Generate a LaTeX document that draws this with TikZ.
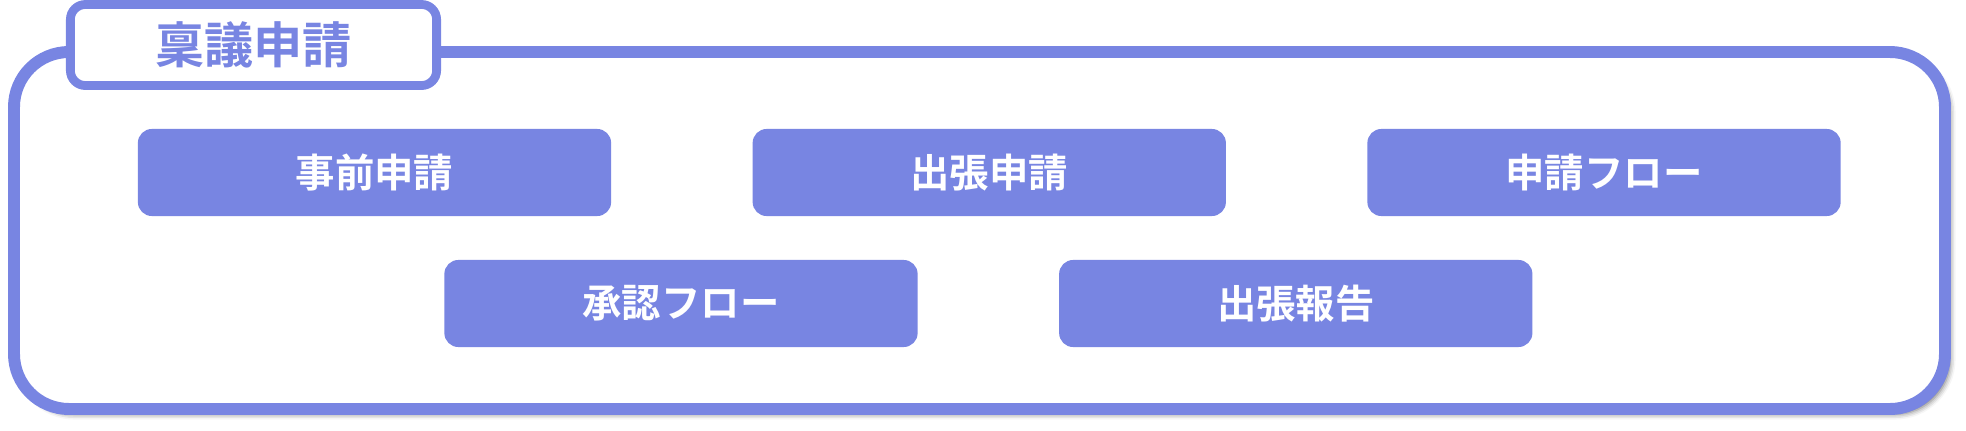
\documentclass[tikz,border=0pt]{standalone}
\usepackage{fontspec}
\newfontfamily\jpfont{Noto Sans CJK JP}[BoldFont={Noto Sans CJK JP Bold}]
\usepackage{tikz}
\usetikzlibrary{positioning,shadows.blur}
\definecolor{lav}{RGB}{120,133,226}

\begin{document}
\begin{tikzpicture}[
    x=0.01cm, y=-0.01cm,
    node distance=1.4cm,
    frame/.style={draw=lav, line width=3.4pt, fill=white, rounded corners=0.55cm, blur shadow={shadow xshift=1.5pt, shadow yshift=-1.5pt, shadow blur radius=1.5pt, shadow opacity=55}},
    tab/.style={rectangle, draw=lav, line width=2.5pt, fill=white, rounded corners=0.15cm, minimum width=3.66cm, minimum height=0.81cm, text=lav, font=\jpfont\bfseries\fontsize{14}{16}\selectfont},
    item/.style={rectangle, fill=lav, rounded corners=0.14cm, minimum width=4.73cm, minimum height=0.87cm, inner sep=0pt, text=white, font=\jpfont\bfseries\fontsize{11.2}{13}\selectfont}
]
    \useasboundingbox (0,0) rectangle (1966,430);
    % Outer frame
    \draw[frame] (14,52) rectangle (1945,409);
    \node[tab] (title) at (253.5,45) {稟議申請};
    
    % First row
    \node[item] (jizen) at (374.5,172.5) {事前申請};
    \node[item, right=of jizen] (shutchou) {出張申請};
    \node[item, right=of shutchou] (flow) {申請フロー};
    
    % Second row
    \node[item] (shounin) at (681,303.5) {承認フロー};
    \node[item, right=of shounin] (houkoku) {出張報告};
\end{tikzpicture}
\end{document}
